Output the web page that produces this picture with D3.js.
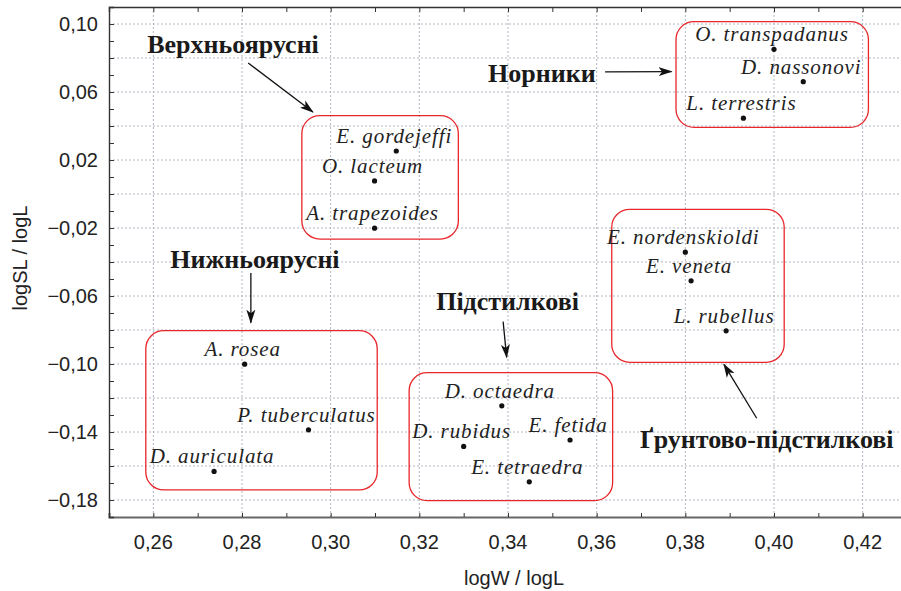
<!DOCTYPE html>
<html>
<head>
<meta charset="utf-8">
<title>logSL / logL vs logW / logL</title>
<script src="https://cdn.jsdelivr.net/npm/d3@7"></script>
<style>
  body { margin: 0; background: #fff; }
  svg { display: block; }
</style>
</head>
<body>
<div id="chart"></div>
<script>
// species points (x = logW / logL, y = logSL / logL)
var species = ["O. transpadanus", "D. nassonovi", "L. terrestris",
    "E. gordejeffi", "O. lacteum", "A. trapezoides",
    "E. nordenskioldi", "E. veneta", "L. rubellus",
    "A. rosea", "P. tuberculatus", "D. auriculata",
    "D. octaedra", "D. rubidus", "E. fetida", "E. tetraedra"];
var logW = [0.4000, 0.4066, 0.3931, 0.3148, 0.3099, 0.3099, 0.3800, 0.3813, 0.3892,
    0.2806, 0.2950, 0.2737, 0.3386, 0.3300, 0.3540, 0.3448];
var logSL = [0.0851, 0.0661, 0.0446, 0.0253, 0.0077, -0.0201, -0.0342, -0.0511, -0.0805,
    -0.1001, -0.1387, -0.1632, -0.1246, -0.1485, -0.1447, -0.1693];

// ecological groups: hull box, caption and arrow, all in data units
var groupNames = ["Норники", "Верхньоярусні", "Ґрунтово-підстилкові", "Нижньоярусні", "Підстилкові"];
var groupBoxX = [[0.3779, 0.4213], [0.2935, 0.3288], [0.3634, 0.4023], [0.2583, 0.3105], [0.3177, 0.3636]];
var groupBoxY = [[0.0392, 0.1014], [-0.0265, 0.0461], [-0.0990, -0.0090], [-0.1741, -0.0804], [-0.1804, -0.1051]];
var groupTextX = [0.3355, 0.2586, 0.3698, 0.2638, 0.3238];
var groupTextY = [0.0659, 0.0829, -0.1496, -0.0434, -0.0682];
var arrowFrom = [[0.3619, 0.0718], [0.2814, 0.0771], [0.3961, -0.1319], [0.2820, -0.0465], [0.3389, -0.0751]];
var arrowTo = [[0.3769, 0.0720], [0.2960, 0.0482], [0.3887, -0.1002], [0.2820, -0.0757], [0.3397, -0.0961]];

// axes
var xTicks = [0.26, 0.28, 0.30, 0.32, 0.34, 0.36, 0.38, 0.40, 0.42];
var yTicks = [0.10, 0.06, 0.02, -0.02, -0.06, -0.10, -0.14, -0.18];
var xTitle = "logW / logL";
var yTitle = "logSL / logL";

var margin = {top: 7, left: 109},
    width = 798,
    height = 510;

var x = d3.scaleLinear().domain([0.25, 0.43]).range([0, width]);
var y = d3.scaleLinear().domain([-0.19, 0.11]).range([height, 0]);

var svg = d3.select("#chart").append("svg")
    .attr("width", 901)
    .attr("height", 591);

svg.append("defs").append("marker")
    .attr("id", "head")
    .attr("markerUnits", "userSpaceOnUse")
    .attr("viewBox", "0 -5 14 10")
    .attr("refX", 13)
    .attr("refY", 0)
    .attr("markerWidth", 14)
    .attr("markerHeight", 10)
    .attr("orient", "auto")
    .append("path")
    .attr("d", "M0,-4.5L14,0L0,4.5L3.5,0Z")
    .attr("fill", "#111");

var g = svg.append("g")
    .attr("transform", "translate(" + margin.left + "," + margin.top + ")");

var fmt = function(v) { return d3.format(".2f")(v).replace(".", ","); };
var minorX = d3.range(26, 43).map(function(v) { return v / 100; });
var minorY = d3.range(-18, 11).map(function(v) { return v / 100; });
var gridX = d3.range(26, 43, 2).map(function(v) { return v / 100; });
var gridY = d3.range(-18, 11, 2).map(function(v) { return v / 100; });

// dotted grid
g.append("g").selectAll("line").data(gridX).enter().append("line")
    .attr("x1", function(d) { return x(d); })
    .attr("x2", function(d) { return x(d); })
    .attr("y1", 0).attr("y2", height)
    .attr("stroke", "#b4b6c4").attr("stroke-width", 1)
    .attr("stroke-dasharray", "2,2");
g.append("g").selectAll("line").data(gridY).enter().append("line")
    .attr("y1", function(d) { return y(d); })
    .attr("y2", function(d) { return y(d); })
    .attr("x1", 0).attr("x2", width)
    .attr("stroke", "#b4b6c4").attr("stroke-width", 1)
    .attr("stroke-dasharray", "2,2");

// frame ticks (pointing inward)
g.append("g")
    .attr("transform", "translate(0," + height + ")")
    .call(d3.axisBottom(x).tickValues(minorX).tickSize(-4).tickFormat(""))
    .call(function(a) {
        a.select(".domain").attr("stroke", "#666").attr("stroke-width", 2);
        a.selectAll(".tick line").attr("stroke", "#333");
    });
g.append("g")
    .call(d3.axisTop(x).tickValues(minorX).tickSize(-5).tickFormat(""))
    .call(function(a) {
        a.select(".domain").attr("stroke", "#333").attr("stroke-width", 1.4);
        a.selectAll(".tick line").attr("stroke", "#333");
    });
g.append("g")
    .call(d3.axisLeft(y).tickValues(minorY).tickSize(-5).tickFormat(""))
    .call(function(a) {
        a.select(".domain").attr("stroke", "#333").attr("stroke-width", 1.4);
        a.selectAll(".tick line").attr("stroke", "#333");
    });

// tick labels
g.append("g").selectAll("text").data(xTicks).enter().append("text")
    .attr("x", function(d) { return x(d); })
    .attr("y", height + 32)
    .attr("text-anchor", "middle")
    .style("font-family", "'Liberation Sans', Arial, sans-serif")
    .style("font-size", "20px")
    .attr("fill", "#222")
    .text(fmt);
g.append("g").selectAll("text").data(yTicks).enter().append("text")
    .attr("x", -11)
    .attr("y", function(d) { return y(d); })
    .attr("dy", "0.36em")
    .attr("text-anchor", "end")
    .style("font-family", "'Liberation Sans', Arial, sans-serif")
    .style("font-size", "20px")
    .attr("fill", "#222")
    .text(fmt);

// axis titles
svg.append("text")
    .attr("x", 514)
    .attr("y", 585)
    .attr("text-anchor", "middle")
    .style("font-family", "'Liberation Sans', Arial, sans-serif")
    .style("font-size", "20px")
    .attr("fill", "#222")
    .text(xTitle);
svg.append("text")
    .attr("transform", "translate(27,258) rotate(-90)")
    .attr("text-anchor", "middle")
    .style("font-family", "'Liberation Sans', Arial, sans-serif")
    .style("font-size", "20px")
    .attr("fill", "#222")
    .text(yTitle);

// group boxes
g.append("g").selectAll("rect").data(groupNames).enter().append("rect")
    .attr("x", function(d, i) { return x(groupBoxX[i][0]); })
    .attr("y", function(d, i) { return y(groupBoxY[i][1]); })
    .attr("width", function(d, i) { return x(groupBoxX[i][1]) - x(groupBoxX[i][0]); })
    .attr("height", function(d, i) { return y(groupBoxY[i][0]) - y(groupBoxY[i][1]); })
    .attr("rx", 18).attr("ry", 18)
    .attr("fill", "none")
    .attr("stroke", "#e8262b")
    .attr("stroke-width", 1.3);

// arrows
g.append("g").selectAll("line").data(groupNames).enter().append("line")
    .attr("x1", function(d, i) { return x(arrowFrom[i][0]); })
    .attr("y1", function(d, i) { return y(arrowFrom[i][1]); })
    .attr("x2", function(d, i) { return x(arrowTo[i][0]); })
    .attr("y2", function(d, i) { return y(arrowTo[i][1]); })
    .attr("stroke", "#111")
    .attr("stroke-width", 1.3)
    .attr("marker-end", "url(#head)");

// group captions
g.append("g").selectAll("text").data(groupNames).enter().append("text")
    .attr("x", function(d, i) { return x(groupTextX[i]); })
    .attr("y", function(d, i) { return y(groupTextY[i]); })
    .style("font-family", "'Liberation Serif', 'Times New Roman', serif")
    .style("font-weight", "bold")
    .style("font-size", "26px")
    .attr("fill", "#1a1a1a")
    .text(function(d) { return d; });

// points and species names
var pts = g.append("g").selectAll("g").data(species).enter().append("g");
pts.append("circle")
    .attr("cx", function(d, i) { return x(logW[i]); })
    .attr("cy", function(d, i) { return y(logSL[i]); })
    .attr("r", 2.6)
    .attr("fill", "#111");
pts.append("text")
    .attr("x", function(d, i) { return x(logW[i]) - 2; })
    .attr("y", function(d, i) { return y(logSL[i]) - 8; })
    .attr("text-anchor", "middle")
    .style("font-family", "'Liberation Serif', 'Times New Roman', serif")
    .style("font-style", "italic")
    .style("font-size", "21px")
    .style("letter-spacing", "0.9px")
    .attr("fill", "#222")
    .text(function(d) { return d; });
</script>
</body>
</html>
